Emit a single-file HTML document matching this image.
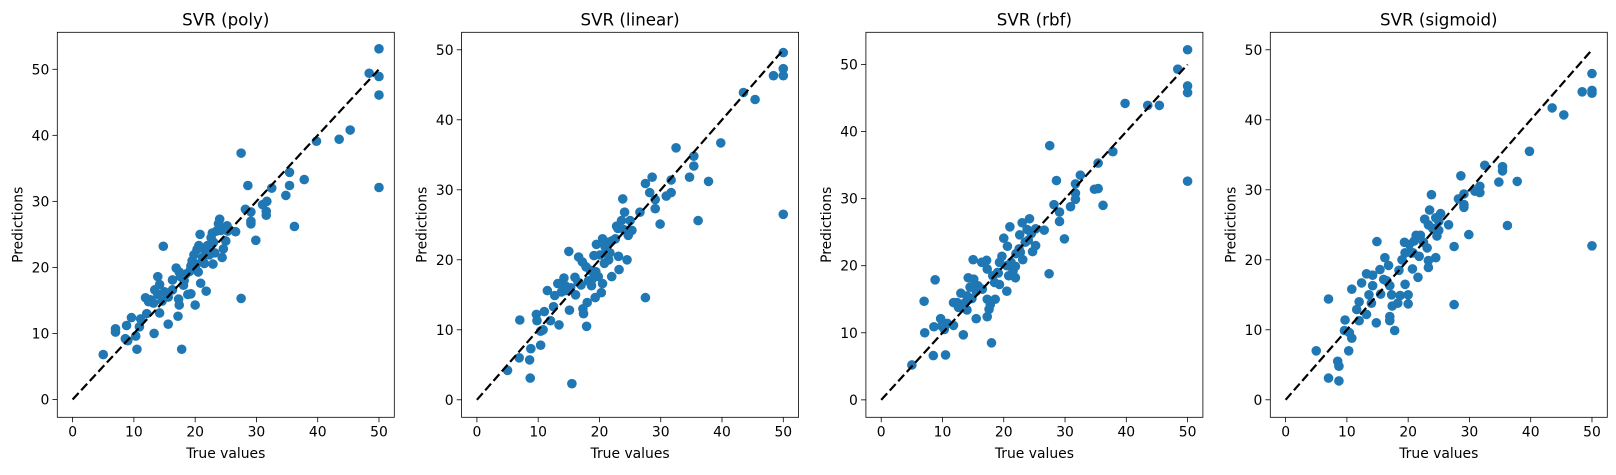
<!DOCTYPE html>
<html><head><meta charset="utf-8"><style>
body{margin:0;background:#fff;}
svg text{font-family:"DejaVu Sans","Liberation Sans",sans-serif;fill:#000;}
</style></head><body>
<svg id="chart" width="1616" height="470" xmlns="http://www.w3.org/2000/svg"></svg>
<script>
const titles = ["SVR (poly)","SVR (linear)","SVR (rbf)","SVR (sigmoid)"];
const xTicks = [0,10,20,30,40,50];
const yTicks = [0,10,20,30,40,50];
const yMaxs = [55.6,52.5,54.8,52.5];
const yMins = [-2.7,-2.5,-2.6,-2.5];
const polyPts = [[50,53.1],[48.4,49.4],[50,48.9],[50,46.1],[50,32.1],[45.3,40.8],[43.5,39.4],[39.8,39.1],[37.8,33.3],[35.4,34.4],[35.4,32.4],[34.8,30.9],[36.2,26.2],[32.5,32],[31.7,30],[31,29.5],[31.6,28.5],[31.6,27.9],[29.9,24.1],[29.1,27],[29.1,26.6],[29.1,28.4],[28.2,28.8],[28.6,32.4],[27.5,37.3],[27.5,15.3],[26.6,25.4],[25.2,26.3],[25,24],[24.6,22.8],[24.4,21.5],[24,27.3],[23.8,26.6],[23.5,25.5],[22.8,25.2],[22.6,24.5],[22,23.3],[22.9,20.5],[23.2,22.2],[21.7,22.5],[21.2,21.5],[20.8,25],[20.6,23.3],[20.3,22.7],[20.2,20.5],[19.8,21.9],[19.5,21],[19.3,20.2],[21.8,16.4],[20.9,17.6],[20,14.3],[19.3,16],[18.8,15.9],[18.5,19],[18.2,18],[17.6,18.6],[17.4,19.3],[16.9,19.9],[16.3,18.1],[17.3,15.2],[17.4,14.3],[17.2,12.6],[16.3,16.6],[15.6,15.5],[15.6,11.4],[15,16.3],[14.8,23.2],[14.6,14.9],[14.2,17.4],[14.2,13.1],[13.9,18.6],[13.9,15.9],[13.4,16.6],[13.2,14.6],[12.7,15.1],[12.4,14.8],[11.9,15.4],[13.3,10],[12.1,13],[11.1,12.2],[10.9,11],[10.3,9.6],[10.5,7.6],[9.6,12.4],[8.8,11.2],[8.6,9.2],[9,8.9],[7,10.7],[7,10.2],[5,6.8],[17.8,7.6],[18.1,17.3],[19.1,19.4],[20.5,19.3],[21.5,20.6],[22.3,21.9],[23,23.8],[24.2,25.6],[25.3,25.5]];
const linearPts = [[50,49.6],[50,47.3],[50,46.3],[48.4,46.3],[50,26.5],[45.4,42.9],[43.5,43.9],[39.8,36.7],[37.8,31.2],[35.4,34.8],[35.4,33.4],[34.7,31.8],[36.1,25.6],[32.5,36],[31.7,31.4],[31.7,29.6],[30.9,29.1],[29.9,25.1],[29.1,27.3],[29.1,28.6],[28.2,29.6],[28.6,31.8],[27.5,30.9],[27.5,14.6],[26.6,26.8],[25.3,24.2],[24.7,23.5],[24.5,20],[23.8,28.7],[24.1,26.8],[23.6,25.6],[22.8,24.8],[22.6,23],[23.1,20.5],[23.2,18.6],[22,17.6],[21.3,22.5],[20.9,21.9],[20.5,23],[20.1,20.7],[19.5,22.2],[19.1,20.6],[21.5,20],[20.5,16.6],[20.3,15.3],[19.3,14.6],[18.7,16.3],[18.2,17],[17.8,19],[17.2,19.7],[16.6,20.4],[15,21.2],[16,17.5],[16.1,15],[15.1,12.8],[17.3,13],[17.4,12.3],[18,13.9],[17.9,10.5],[15.5,2.3],[14.2,17.4],[14.4,16.3],[13.8,15.4],[13.2,16.6],[12.7,14.9],[12.5,13.3],[11.5,15.6],[12,11.3],[13.4,10.7],[11,12.6],[10.8,10],[10.4,9.8],[9.7,12.2],[9.8,11.3],[10.4,7.8],[8.8,7.3],[8.6,5.7],[8.7,3.1],[7,11.4],[6.9,6],[5,4.2],[19.4,18.3],[18.5,18.5],[21,21],[22,22.7],[23,24.5],[24,24.3],[25,25.6],[16.5,16.8],[15.3,16],[14.6,15.6],[19.8,17.6],[20.8,19.5],[21.7,21],[18.8,17.2],[17,16.4]];
const rbfPts = [[50,52.2],[48.4,49.3],[50,46.8],[50,45.8],[50,32.6],[45.4,43.9],[43.5,43.9],[39.8,44.2],[37.8,37],[35.4,35.3],[35.4,31.5],[34.8,31.4],[36.2,29],[32.5,33.5],[31.7,32.2],[31.7,30.8],[31.7,29.9],[30.9,28.8],[29.9,24],[29.1,26.6],[29.1,28],[28.2,29.1],[28.6,32.7],[27.5,37.9],[27.4,18.8],[26.6,25.3],[25.2,25.5],[25.2,23],[24.7,22.1],[24.2,27],[23.8,25.4],[23,26.4],[22.6,24.6],[23.1,20.9],[22.7,22],[21.9,19.9],[21.9,18.2],[21,25.8],[20.6,22.9],[20,24.1],[19.7,21.4],[19.3,20.5],[19.1,18.9],[20.5,16.2],[19.3,17.2],[18.6,15],[18.2,18.5],[17.3,19.5],[17.2,20.8],[16.4,20.5],[15,20.9],[15.8,17],[14.2,18.2],[15.1,18],[14.5,16.8],[14.8,15.1],[13.7,14.5],[13,15.9],[12.4,14.5],[11.8,14.5],[12.6,13.8],[14,13.4],[15.5,12.1],[17.3,12.4],[17.6,13.5],[17.8,14.2],[17.3,15],[18,8.5],[13.4,9.7],[11.8,11.1],[10.8,11.4],[10.3,10.5],[9.7,12.1],[8.6,10.9],[9.9,11],[7.1,10],[7,14.7],[8.8,17.9],[8.5,6.6],[10.5,6.7],[5,5.2],[20.5,20],[21.2,20.5],[22,21.8],[23.5,23.5],[24.5,24.8],[19,19],[18.5,17.5],[16.5,16.5],[20.8,18.5],[21.5,19.2],[22.5,22.5],[24,23.8],[15.5,16.2],[14,15.5]];
const sigmoidPts = [[50,46.6],[50,44.2],[50,43.8],[48.4,44],[50,22],[45.4,40.7],[43.5,41.7],[39.8,35.5],[37.8,31.2],[35.4,33.3],[35.4,32.7],[34.8,31.1],[36.2,24.9],[32.5,33.5],[31.7,30.5],[31.7,29.6],[31.2,29.9],[30.9,29.8],[29.9,23.6],[29.1,29.4],[29.1,27.9],[29.1,27.5],[28.2,28.7],[28.6,32],[27.5,21.9],[27.5,13.6],[26.6,25],[25.3,26.6],[25,24.2],[24.7,23.4],[24.5,20.3],[23.8,29.3],[23.5,27.1],[22.7,25.8],[23.3,25],[23.1,21.7],[23.3,19.9],[23.3,18.9],[21.6,17.5],[21.3,23.5],[21,22.7],[20.8,21],[20.2,22.2],[19.4,22.5],[19,20],[20.7,18.7],[20,15],[20,13.7],[19.5,16.5],[18.7,14.9],[18.3,13.8],[17.4,13.4],[17.3,15],[17,16.3],[16.8,19.2],[16.2,20.3],[15.4,18.6],[14.9,22.6],[15.5,15.1],[16,17.2],[14.2,17.8],[14.2,16.3],[13.6,15],[14,13.8],[13.2,18],[12.4,16.7],[12,14],[11.6,12.9],[12,11.3],[13.2,12.2],[14.8,11],[10.8,15.8],[17,11.9],[17,11.3],[17.8,9.9],[10.8,8.8],[10.4,9.6],[9.6,9.9],[9.7,11.4],[10.3,7],[7,14.4],[5,7],[8.5,5.5],[8.7,4.8],[7,3.1],[8.7,2.7],[21.8,20.5],[22.5,22.5],[24,24.5],[24.5,26],[25,25.5],[19.5,21],[18.5,18.5],[20.5,21],[22,23.5],[16.5,17]];
const allPts = [polyPts, linearPts, rbfPts, sigmoidPts];

const NS = "http://www.w3.org/2000/svg";
const svg = document.getElementById('chart');
function mk(tag, attrs, parent){const e=document.createElementNS(NS,tag);for(const k in attrs)e.setAttribute(k,attrs[k]);parent.appendChild(e);return e;}
const axW = 337, axTop = 32.3, axBot = 417.3;
const lefts = [57.3, 461.6, 865.9, 1270.3];
for(let p=0;p<4;p++){
  const L = lefts[p];
  const xs = v => L + (v+2.5)/55*axW;
  const ys = v => axBot - (v-yMins[p])/(yMaxs[p]-yMins[p])*(axBot-axTop);
  const g = mk('g',{},svg);
  
  
  const pts = allPts[p];
  for(const d of pts){
    const c = mk('circle',{cx:xs(d[0]),cy:ys(d[1]),r:4.8,fill:'#1f77b4'},g);
    
    
  }
  const ln = mk('line',{x1:xs(0),y1:ys(0),x2:xs(50),y2:ys(50),stroke:'#000','stroke-width':2.2,'stroke-dasharray':'8.8,3.8'},g);
  
  
  const fr = mk('rect',{x:L,y:axTop,width:axW,height:axBot-axTop,fill:'none',stroke:'#000','stroke-width':0.8},g);
  
  
  for(const t of xTicks){
    const x = xs(t);
    mk('line',{x1:x,y1:axBot,x2:x,y2:axBot+4.9,stroke:'#000','stroke-width':0.8},g);
    const tx = mk('text',{x:x,y:axBot+19,'font-size':13.9,'text-anchor':'middle'},g);
    tx.textContent = t;
    
    
  }
  for(const t of yTicks){
    const y = ys(t);
    mk('line',{x1:L,y1:y,x2:L-4.9,y2:y,stroke:'#000','stroke-width':0.8},g);
    const ty = mk('text',{x:L-8,y:y+5,'font-size':13.9,'text-anchor':'end'},g);
    ty.textContent = t;
    
    
  }
  const ti = mk('text',{x:L+axW/2,y:axTop-7,'font-size':16.7,'text-anchor':'middle'},g);
  ti.textContent = titles[p];
  
  
  const xl = mk('text',{x:L+axW/2,y:458,'font-size':13.9,'text-anchor':'middle'},g);
  xl.textContent = 'True values';
  
  
  const yl = mk('text',{x:0,y:0,'font-size':13.9,'text-anchor':'middle',transform:`translate(${L-35},${(axTop+axBot)/2}) rotate(-90)`},g);
  yl.textContent = 'Predictions';
  
  
}
</script>
</body></html>
